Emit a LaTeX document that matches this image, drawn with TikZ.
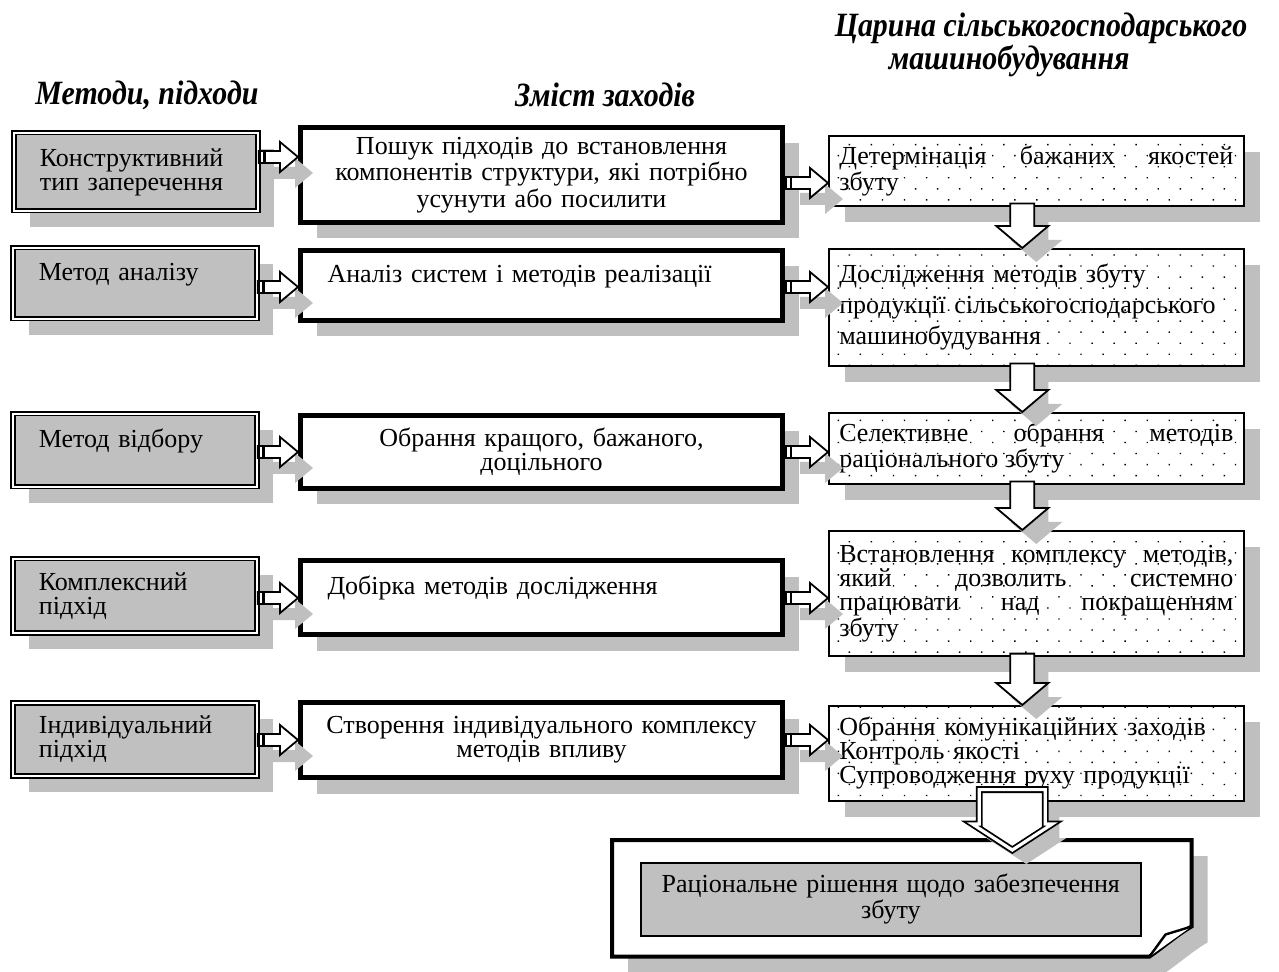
\documentclass[tikz,border=0pt]{standalone}
\usepackage{fontspec}
\setmainfont{Liberation Serif}
\newfontfamily\headfont[FakeStretch=0.88]{Liberation Serif}
\usetikzlibrary{calc,shadows,patterns.meta}

\definecolor{boxgray}{RGB}{192,192,192}
\definecolor{shadegray}{RGB}{191,191,191}

\hyphenpenalty=10000
\hbadness=10000

\tikzset{every picture/.style={line width=0.75pt}}
\tikzset{
  bodytext/.style={font=\fontsize{13}{12}\selectfont},
  headtext/.style={font=\headfont\bfseries\itshape\fontsize{17}{15}\selectfont, inner sep=0pt},
  boxshadow/.style={drop shadow={shadow xshift=8pt, shadow yshift=-8pt, fill=shadegray, opacity=1}},
  methodbox/.style={bodytext, boxshadow, anchor=north west, fill=boxgray, draw, double, line width=0.9pt, double distance=0.8pt, minimum width=122pt, text width=96pt, align=left, inner sep=0pt},
  contentbox/.style={bodytext, boxshadow, anchor=north west, fill=white, draw, line width=2.5pt, minimum width=241pt, text width=214pt, inner sep=0pt},
  fieldbox/.style={bodytext, boxshadow, anchor=north west, fill=white, draw, line width=0.8pt, minimum width=207.5pt, text width=197pt, inner sep=0pt, postaction={pattern={Dots[distance=7.8pt, angle=45, radius=0.5pt]}}},
  resultbox/.style={bodytext, anchor=north west, fill=boxgray, draw, line width=0.8pt, minimum width=250pt, text width=244pt, align=center, inner sep=0pt},
  arrowbody/.style={draw, fill=white, line width=0.9pt, line join=miter},
  arrowshade/.style={fill=shadegray},
  arrowfoot/.style={draw, fill=white, line width=1.4pt},
}

% block arrow to the right, from a point to the west side of a node
\newcommand{\sidepoly}[2]{($(sa)+(#1,#2-6)$) -- ($(sb)+(#1-18,#2-6)$) -- ($(sb)+(#1-18,#2-15)$) -- ($(sb)+(#1,#2)$) -- ($(sb)+(#1-18,#2+15)$) -- ($(sb)+(#1-18,#2+6)$) -- ($(sa)+(#1,#2+6)$) -- cycle}
\newcommand{\sidearrow}[2]{%
  \coordinate (sa) at (#1);
  \coordinate (sb) at (#2.west |- sa);
  \fill[arrowshade] \sidepoly{15}{16};
  \draw[arrowbody] \sidepoly{0}{0};
  \draw[arrowfoot] ($(sa)+(1,-6)$) rectangle ($(sa)+(6,6)$);
}
% block arrow downwards, from one node to the next
\newcommand{\dropoly}[2]{($(da)+(#1-12,#2)$) -- ($(db)+(#1-12,#2-22)$) -- ($(db)+(#1-26,#2-22)$) -- ($(db)+(#1,#2)$) -- ($(db)+(#1+26,#2-22)$) -- ($(db)+(#1+12,#2-22)$) -- ($(da)+(#1+12,#2)$) -- cycle}
\newcommand{\droparrow}[2]{%
  \coordinate (da) at ($(#1.south)+(-14,-3)$);
  \coordinate (db) at (#2.north -| da);
  \fill[arrowshade] \dropoly{14}{14};
  \draw[arrowbody] \dropoly{0}{0};
}

\begin{document}
\begin{tikzpicture}[x=0.5pt,y=0.5pt,yscale=-1]
\useasboundingbox (0,0) rectangle (1279,972);

% Text Node
\node[headtext] (hmeth) at (147,95) {Методи, підходи};
% Text Node
\node[headtext] (hcont) at (605,95) {Зміст заходів};
% Text Node
\node[headtext, anchor=north west, align=left] (hfield) at (834,12) {Царина сільськогосподарського\\\hspace*{27pt}машинобудування};

%Shape: Methods
\node[methodbox, minimum height=39pt] (l1) at (13,132) {Конструктивний\\тип заперечення};
\node[methodbox, minimum height=35.5pt] (l2) at (12,247) {Метод аналізу\\ \mbox{}};
\node[methodbox, minimum height=36.5pt] (l3) at (12,413) {Метод відбору\\ \mbox{}};
\node[methodbox, minimum height=37pt] (l4) at (12,558) {Комплексний\\підхід};
\node[methodbox, minimum height=36.5pt] (l5) at (12,702) {Індивідуальний\\підхід};

%Shape: Contents
\node[contentbox, minimum height=47.5pt, text width=232pt, align=center] (m1) at (298,125) {Пошук підходів до встановлення\\компонентів структури, які потрібно\\усунути або посилити};
\node[contentbox, minimum height=35pt, align=left] (m2) at (298,248) {Аналіз систем і методів реалізації\\ \mbox{}};
\node[contentbox, minimum height=36.5pt, text width=232pt, align=center] (m3) at (298,413) {Обрання кращого, бажаного,\\доцільного};
\node[contentbox, minimum height=37pt, align=left] (m4) at (298,558) {Добірка методів дослідження\\ \mbox{}};
\node[contentbox, minimum height=37.5pt, text width=232pt, align=center] (m5) at (298,700) {Створення індивідуального комплексу\\методів впливу};

%Shape: Fields
\node[fieldbox, minimum height=35pt, align=justify] (r1) at (828,135) {Детермінація бажаних якостей\linebreak збуту};
\node[fieldbox, minimum height=58.5pt, align=left, font=\fontsize{13}{15.5}\selectfont] (r2) at (828,248) {Дослідження методів збуту\\продукції сільськогосподарського\\машинобудування};
\node[fieldbox, minimum height=35.5pt, align=justify] (r3) at (828,412) {Селективне обрання методів\linebreak раціонального збуту};
\node[fieldbox, minimum height=62.5pt, align=justify] (r4) at (828,530) {Встановлення комплексу методів,\linebreak який дозволить системно\linebreak працювати над покращенням\linebreak збуту};
\node[fieldbox, minimum height=47.5pt, align=left] (r5) at (828,705) {Обрання комунікаційних заходів\\Контроль якості\\Супроводження руху продукції};

%Shape: Result (folded corner)
\node[anchor=north west, minimum width=289pt, minimum height=57.5pt, inner sep=0pt] (res) at (612,840) {};
\fill[shadegray] ($(res.north west)+(16,16)$) -- ($(res.north east)+(16,16)$) -- ($(res.south east)+(16,-14)$) .. controls ($(res.south east)+(2,-6)$) and ($(res.south east)+(-14,8)$) .. ($(res.south east)+(-26,16)$) -- ($(res.south west)+(16,16)$) -- cycle;
\draw[line width=2pt, fill=white, line join=miter] (res.north west) -- (res.north east) -- ($(res.south east)+(0,-30)$) .. controls ($(res.south east)+(-14,-22)$) and ($(res.south east)+(-30,-8)$) .. ($(res.south east)+(-42,0)$) -- (res.south west) -- cycle;
\draw[line width=1.2pt, fill=white] ($(res.south east)+(-42,0)$) -- ($(res.south east)+(-26,-22)$) -- ($(res.south east)+(0,-30)$);
\node[resultbox, minimum height=36.5pt] (resin) at (640,862) {Раціональне рішення щодо забезпечення\\збуту};

%Block arrows: methods -> contents -> fields
\sidearrow{l1.east |- 0,157}{m1}
\sidearrow{m1.east |- 0,183}{r1}
\sidearrow{l2.east |- 0,287}{m2}
\sidearrow{m2.east |- 0,287}{r2}
\sidearrow{l3.east |- 0,452}{m3}
\sidearrow{m3.east |- 0,452}{r3}
\sidearrow{l4.east |- 0,598}{m4}
\sidearrow{m4.east |- 0,598}{r4}
\sidearrow{l5.east |- 0,740}{m5}
\sidearrow{m5.east |- 0,740}{r5}

%Block arrows: down the fields
\droparrow{r1}{r2}
\droparrow{r2}{r3}
\droparrow{r3}{r4}
\droparrow{r4}{r5}

%Block arrow: fields -> result
\coordinate (fa) at ($(r5.south)+(-24,-12)$);
\coordinate (fb) at ($(res.north -| fa)+(0,10)$);
\fill[shadegray] ($(fa)+(-19,14)$) -- ($(fb)+(-19,-12)$) -- ($(fb)+(-26,-12)$) -- ($(fb)+(14,14)$) -- ($(fb)+(54,-12)$) -- ($(fb)+(47,-12)$) -- ($(fa)+(47,14)$) -- cycle;
\draw[fill=white, line width=0.9pt, double, double distance=1.6pt, line join=miter] ($(fa)+(-33,0)$) -- ($(fb)+(-33,-26)$) -- ($(fb)+(-40,-26)$) -- (fb) -- ($(fb)+(40,-26)$) -- ($(fb)+(33,-26)$) -- ($(fa)+(33,0)$) -- cycle;
\end{tikzpicture}
\end{document}
